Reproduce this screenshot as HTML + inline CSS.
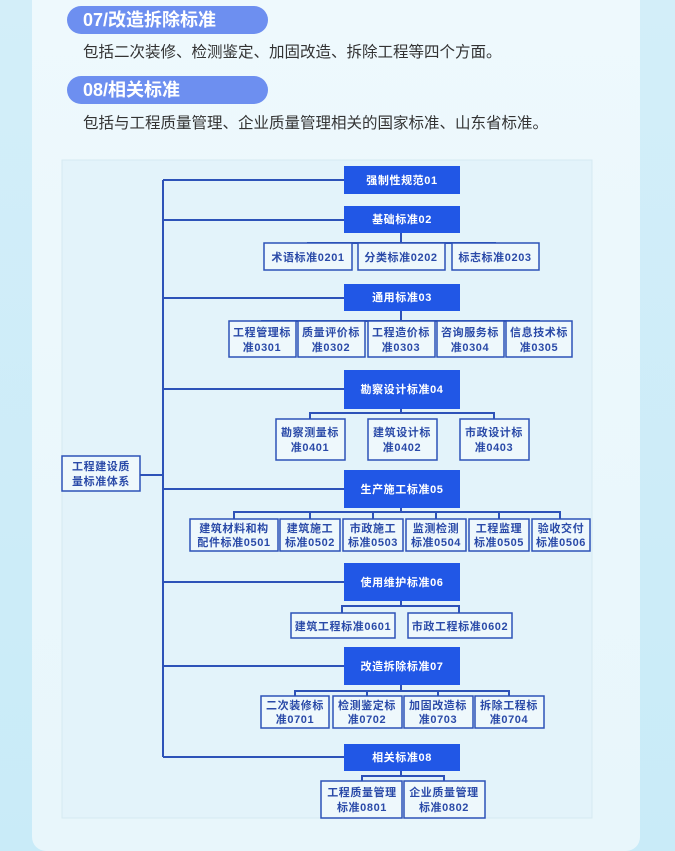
<!DOCTYPE html>
<html><head><meta charset="utf-8"><style>
html,body{margin:0;padding:0;}
body{width:675px;height:851px;overflow:hidden;background:linear-gradient(180deg,#d3eef9,#c9ebf8);font-family:"Liberation Sans","Noto Sans CJK SC",sans-serif;position:relative;}
.card{position:absolute;left:32px;top:-20px;width:608px;height:871px;background:linear-gradient(180deg,#eef9fd,#e8f6fb);border-radius:14px;}
.pill{position:absolute;left:67px;width:201px;height:28px;border-radius:14px;background:#6d8ff0;color:#fff;font-weight:bold;font-size:18px;line-height:28px;padding-left:16px;box-sizing:border-box;}
.t{position:absolute;left:83px;font-size:15.5px;color:#333;}
svg{position:absolute;left:0;top:0;}
</style></head><body>
<div class="card"></div>
<div class="pill" style="top:6px">07/改造拆除标准</div>
<div class="t" style="top:40px">包括二次装修、检测鉴定、加固改造、拆除工程等四个方面。</div>
<div class="pill" style="top:76px">08/相关标准</div>
<div class="t" style="top:111px">包括与工程质量管理、企业质量管理相关的国家标准、山东省标准。</div>
<svg width="675" height="851" font-family="'Liberation Sans','Noto Sans CJK SC',sans-serif" font-size="11" font-weight="bold" letter-spacing="0.6">
<rect x="62" y="160" width="530" height="658" fill="#e3f3fa" stroke="#d6e9f1"/>
<g stroke="#2d52b8" stroke-width="2" fill="none">
<path d="M163 180V757 M140 475H163"/>
<path d="M163 180H344 M163 220H344 M163 298H344 M163 389H344 M163 489H344 M163 582H344 M163 666H344 M163 757H344"/>
<path d="M401 233V243 M308 249V243H495V249"/>
<path d="M401 311V321 M262 334V321H539V334"/>
<path d="M401 409V413 M310 419V413H494V419"/>
<path d="M401 508V512 M234 519V512H560V519 M310 512V519 M373 512V519 M436 512V519 M499 512V519"/>
<path d="M401 601V606 M342 613V606H459V613"/>
<path d="M401 685V691 M295 696V691H509V696 M367 691V696 M438 691V696"/>
<path d="M401 771V776 M362 781V776H444V781"/>
</g>
<g fill="#2157e6">
<rect x="344" y="166" width="116" height="28"/>
<rect x="344" y="206" width="116" height="27"/>
<rect x="344" y="284" width="116" height="27"/>
<rect x="344" y="370" width="116" height="39"/>
<rect x="344" y="470" width="116" height="38"/>
<rect x="344" y="563" width="116" height="38"/>
<rect x="344" y="647" width="116" height="38"/>
<rect x="344" y="744" width="116" height="27"/>
</g>
<g fill="#fff" text-anchor="middle">
<text x="402" y="184">强制性规范01</text>
<text x="402" y="223">基础标准02</text>
<text x="402" y="301">通用标准03</text>
<text x="402" y="393">勘察设计标准04</text>
<text x="402" y="493">生产施工标准05</text>
<text x="402" y="586">使用维护标准06</text>
<text x="402" y="670">改造拆除标准07</text>
<text x="402" y="761">相关标准08</text>
</g>
<g fill="#eef8fc" stroke="#2d52b8" stroke-width="1.5">
<rect x="62" y="456" width="78" height="35"/>
<rect x="264" y="243" width="88" height="27"/><rect x="358" y="243" width="87" height="27"/><rect x="452" y="243" width="87" height="27"/>
<rect x="229" y="321" width="67" height="36"/><rect x="298" y="321" width="67" height="36"/><rect x="368" y="321" width="67" height="36"/><rect x="437" y="321" width="67" height="36"/><rect x="506" y="321" width="66" height="36"/>
<rect x="276" y="419" width="69" height="41"/><rect x="368" y="419" width="69" height="41"/><rect x="460" y="419" width="69" height="41"/>
<rect x="190" y="519" width="88" height="32"/><rect x="280" y="519" width="60" height="32"/><rect x="343" y="519" width="60" height="32"/><rect x="406" y="519" width="60" height="32"/><rect x="469" y="519" width="60" height="32"/><rect x="532" y="519" width="58" height="32"/>
<rect x="291" y="613" width="104" height="25"/><rect x="408" y="613" width="104" height="25"/>
<rect x="261" y="696" width="68" height="32"/><rect x="333" y="696" width="69" height="32"/><rect x="404" y="696" width="69" height="32"/><rect x="475" y="696" width="69" height="32"/>
<rect x="321" y="781" width="81" height="37"/><rect x="404" y="781" width="81" height="37"/>
</g>
<g fill="#2a4aa8" text-anchor="middle">
<text x="101" y="470">工程建设质</text><text x="101" y="485">量标准体系</text>
<text x="308" y="261">术语标准0201</text><text x="401" y="261">分类标准0202</text><text x="495" y="261">标志标准0203</text>
<text x="262" y="336">工程管理标</text><text x="262" y="351">准0301</text>
<text x="331" y="336">质量评价标</text><text x="331" y="351">准0302</text>
<text x="401" y="336">工程造价标</text><text x="401" y="351">准0303</text>
<text x="470" y="336">咨询服务标</text><text x="470" y="351">准0304</text>
<text x="539" y="336">信息技术标</text><text x="539" y="351">准0305</text>
<text x="310" y="436">勘察测量标</text><text x="310" y="451">准0401</text>
<text x="402" y="436">建筑设计标</text><text x="402" y="451">准0402</text>
<text x="494" y="436">市政设计标</text><text x="494" y="451">准0403</text>
<text x="234" y="532">建筑材料和构</text><text x="234" y="546">配件标准0501</text>
<text x="310" y="532">建筑施工</text><text x="310" y="546">标准0502</text>
<text x="373" y="532">市政施工</text><text x="373" y="546">标准0503</text>
<text x="436" y="532">监测检测</text><text x="436" y="546">标准0504</text>
<text x="499" y="532">工程监理</text><text x="499" y="546">标准0505</text>
<text x="561" y="532">验收交付</text><text x="561" y="546">标准0506</text>
<text x="343" y="630">建筑工程标准0601</text><text x="460" y="630">市政工程标准0602</text>
<text x="295" y="709">二次装修标</text><text x="295" y="723">准0701</text>
<text x="367" y="709">检测鉴定标</text><text x="367" y="723">准0702</text>
<text x="438" y="709">加固改造标</text><text x="438" y="723">准0703</text>
<text x="509" y="709">拆除工程标</text><text x="509" y="723">准0704</text>
<text x="362" y="796">工程质量管理</text><text x="362" y="811">标准0801</text>
<text x="444" y="796">企业质量管理</text><text x="444" y="811">标准0802</text>
</g>
</svg>
</body></html>
